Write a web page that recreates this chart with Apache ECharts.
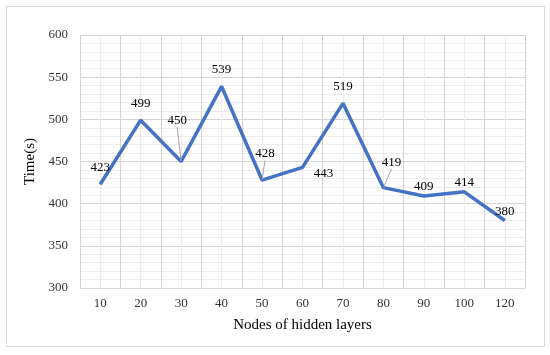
<!DOCTYPE html>
<html>
<head>
<meta charset="utf-8">
<script src="https://cdn.jsdelivr.net/npm/echarts@6/dist/echarts.min.js"></script>
<style>
  html, body { margin: 0; padding: 0; background: #fff; }
  #main { width: 550px; height: 355px; }
</style>
</head>
<body>
<div id="main"></div>
<script>
var nodes = ['10', '20', '30', '40', '50', '60', '70', '80', '90', '100', '120'];
var times = [423, 499, 450, 539, 428, 443, 519, 419, 409, 414, 380];
var yTicks = [300, 350, 400, 450, 500, 550, 600];

var FONT = '"Liberation Serif", "Times New Roman", serif';

// 标签位移 (line: 是否画引线)
var moved = {
    2: { dx: -4, dy: -24, line: true },
    4: { dx: 3, dy: -9, line: true },
    5: { dx: 21, dy: 23, line: false },
    7: { dx: 8, dy: -8, line: true }
};

function getData() {
    return times.map(function (v, i) {
        var item = { value: v };
        var m = moved[i];
        item.labelLine = { show: !!(m && m.line) };
        if (i >= 8) {
            item.label = { distance: 2 };
        }
        return item;
    });
}

var myChart = echarts.init(document.getElementById('main'));
var option = {
    animation: false,
    backgroundColor: '#fff',
    graphic: [{
        type: 'rect',
        shape: { x: 6.5, y: 6.5, width: 538, height: 340 },
        style: { fill: 'none', stroke: '#d9d9d9', lineWidth: 1 },
        silent: true
    }],
    grid: { left: 80, right: 25, top: 35, bottom: 67 },
    xAxis: [{
        type: 'category',
        data: nodes,
        boundaryGap: true,
        name: 'Nodes of hidden layers',
        nameLocation: 'middle',
        nameGap: 30,
        nameTextStyle: { fontFamily: FONT, fontSize: 15, color: '#000' },
        axisLine: { lineStyle: { color: '#d9d9d9' } },
        axisTick: { show: false },
        axisLabel: { fontFamily: FONT, fontSize: 13, color: '#333', margin: 9 },
        splitLine: { show: true, lineStyle: { color: '#d4d4d4', width: 1 } },
        z: 3
    }, {
        type: 'value',
        min: 0,
        max: 22,
        interval: 1,
        show: true,
        axisLine: { show: false },
        axisTick: { show: false },
        axisLabel: { show: false },
        splitLine: { show: true, lineStyle: { color: '#ececec', width: 1 } },
        z: 1
    }],
    yAxis: {
        type: 'value',
        min: 300,
        max: 600,
        interval: 50,
        name: 'Time(s)',
        nameLocation: 'middle',
        nameGap: 36,
        nameTextStyle: { fontFamily: FONT, fontSize: 15, color: '#000' },
        axisLine: { show: false },
        axisTick: { show: false },
        axisLabel: { fontFamily: FONT, fontSize: 13, color: '#333', margin: 12 },
        splitLine: { show: true, lineStyle: { color: '#d4d4d4', width: 1 } },
        minorTick: { show: false, splitNumber: 5 },
        minorSplitLine: { show: true, lineStyle: { color: '#ececec', width: 1 } }
    },
    series: [{
        type: 'line',
        xAxisIndex: 0,
        data: getData(),
        symbol: 'circle',
        symbolSize: 1,
        showSymbol: true,
        itemStyle: { color: '#4472C4' },
        lineStyle: { color: '#4472C4', width: 3.5 },
        label: {
            show: true,
            position: 'top',
            distance: 10,
            fontFamily: FONT,
            fontSize: 13,
            color: '#000'
        },
        labelLine: {
            show: false,
            lineStyle: { color: '#a6a6a6', width: 1 }
        },
        labelLayout: function (params) {
            var m = moved[params.dataIndex];
            if (m) {
                return { dx: m.dx, dy: m.dy };
            }
            return {};
        },
        z: 5
    }]
};

myChart.setOption(option);
</script>
</body>
</html>
